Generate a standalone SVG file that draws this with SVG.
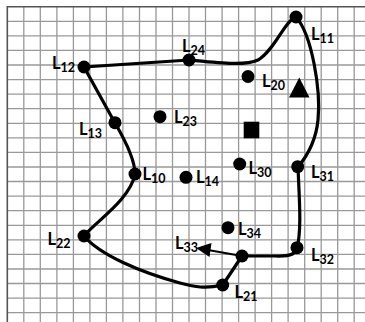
<svg xmlns="http://www.w3.org/2000/svg" width="365" height="322" viewBox="0 0 365 322">
<style>
.grid{stroke:#999;stroke-width:1.3;fill:none}
.border{stroke:#555;stroke-width:1.6;fill:none}
.curve{stroke:#000;stroke-width:3.2;fill:none;stroke-linecap:round;stroke-linejoin:round}
.arrow{stroke:#000;stroke-width:2;fill:none}
.dot{fill:#000}
.lbl{font-family:Lato,"Open Sans","Liberation Sans",sans-serif;font-weight:bold;font-size:16.5px;fill:#000}
.sub{font-size:12.5px}
</style>
<rect width="365" height="322" fill="#fff"/>
<g id="grid">
<path class="grid" d="M23.8,7V322M40.3,7V322M56.9,7V322M73.4,7V322M89.9,7V322M106.4,7V322M122.9,7V322M139.5,7V322M156,7V322M172.5,7V322M189,7V322M205.5,7V322M222.1,7V322M238.6,7V322M255.1,7V322M271.6,7V322M288.1,7V322M304.7,7V322M321.2,7V322M337.7,7V322M354.2,7V322"/>
<path class="grid" d="M7,21.3H365M7,35.8H365M7,50.4H365M7,65H365M7,79.6H365M7,94.1H365M7,108.7H365M7,123.3H365M7,137.8H365M7,152.4H365M7,167H365M7,181.5H365M7,196.1H365M7,210.7H365M7,225.3H365M7,239.8H365M7,254.4H365M7,269H365M7,283.5H365M7,298.1H365M7,312.7H365"/>
<path class="border" d="M7.3,322V6.7H365"/>
</g>
<g id="connectors">
<path class="curve" d="M84,67 L189,60 C220,63 245,66 258,60 C275,50 285,20 296,17 C312,35 321,90 318,120 C316,140 308,155 298,167 C299,195 302,230 297,248 Q296,257 275,256 L242,256 L222.7,285 C205,289 195,287 180,283 C140,272 100,255 84,236 C95,222 130,200 135,174 C135,160 125,140 115,123 Z"/>
<line class="arrow" x1="242" y1="256" x2="208" y2="250"/>
<polygon points="196,248 211.5,243 209.5,257" fill="#000"/>
</g>
<g id="L12"><circle class="dot" cx="84" cy="67" r="6.5"/><text class="lbl" x="52" y="69">L<tspan class="sub" dy="3">12</tspan></text></g>
<g id="L24"><circle class="dot" cx="189" cy="60" r="6.5"/><text class="lbl" x="182" y="52">L<tspan class="sub" dy="3">24</tspan></text></g>
<g id="L11"><circle class="dot" cx="296" cy="17" r="6.5"/><text class="lbl" x="311" y="40">L<tspan class="sub" dy="3">11</tspan></text></g>
<g id="L20"><circle class="dot" cx="248" cy="76.5" r="6.5"/><text class="lbl" x="262" y="87">L<tspan class="sub" dy="3">20</tspan></text></g>
<g id="triangle"><polygon points="299.3,77.5 309.5,97.5 289,97.5" fill="#000"/></g>
<g id="square"><rect x="243.7" y="121.7" width="15.6" height="16.6" fill="#000"/></g>
<g id="L13"><circle class="dot" cx="115" cy="122.7" r="6.5"/><text class="lbl" x="79" y="135">L<tspan class="sub" dy="3">13</tspan></text></g>
<g id="L23"><circle class="dot" cx="160" cy="116.7" r="6.5"/><text class="lbl" x="174" y="123">L<tspan class="sub" dy="3">23</tspan></text></g>
<g id="L10"><circle class="dot" cx="135" cy="174" r="6.5"/><text class="lbl" x="142.5" y="179.5">L<tspan class="sub" dy="3">10</tspan></text></g>
<g id="L14"><circle class="dot" cx="186" cy="177.3" r="6.5"/><text class="lbl" x="196" y="183">L<tspan class="sub" dy="3">14</tspan></text></g>
<g id="L30"><circle class="dot" cx="239.7" cy="164" r="6.5"/><text class="lbl" x="248.5" y="174">L<tspan class="sub" dy="3">30</tspan></text></g>
<g id="L31"><circle class="dot" cx="297.7" cy="166.7" r="6.5"/><text class="lbl" x="311" y="178">L<tspan class="sub" dy="3">31</tspan></text></g>
<g id="L22"><circle class="dot" cx="84" cy="236" r="6.5"/><text class="lbl" x="47.5" y="245">L<tspan class="sub" dy="3">22</tspan></text></g>
<g id="L34"><circle class="dot" cx="228" cy="227.7" r="6.5"/><text class="lbl" x="238" y="235">L<tspan class="sub" dy="3">34</tspan></text></g>
<g id="L32"><circle class="dot" cx="297" cy="247.7" r="6.5"/><text class="lbl" x="311" y="261">L<tspan class="sub" dy="3">32</tspan></text></g>
<g id="junction"><circle class="dot" cx="242" cy="256" r="6.5"/></g>
<g id="L21"><circle class="dot" cx="222.7" cy="285" r="6.5"/><text class="lbl" x="234.5" y="298">L<tspan class="sub" dy="3">21</tspan></text></g>
<g id="L33"><text class="lbl" x="175" y="248.5">L<tspan class="sub" dy="3">33</tspan></text></g>
</svg>
